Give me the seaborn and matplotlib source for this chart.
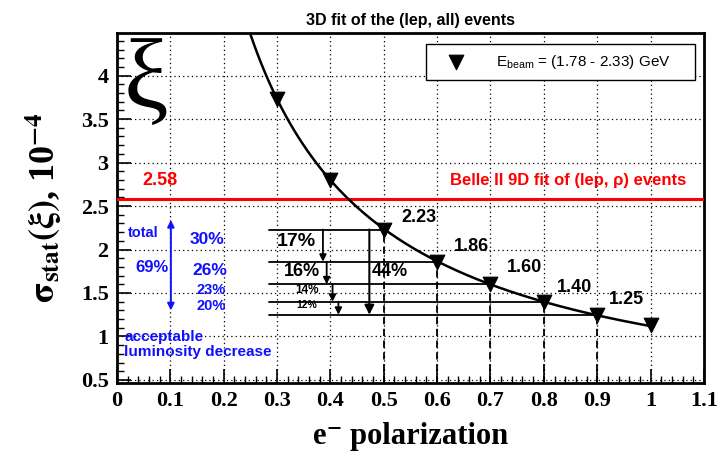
import numpy as np
import pandas as pd
import matplotlib
matplotlib.use("Agg")
import matplotlib.pyplot as plt
import seaborn as sns
from matplotlib.ticker import MultipleLocator

# data
polarization = [0.3, 0.4, 0.5, 0.6, 0.7, 0.8, 0.9, 1.0]
sigma_stat = [3.73, 2.80, 2.23, 1.86, 1.60, 1.40, 1.25, 1.13]
labelled_pol = [0.5, 0.6, 0.7, 0.8, 0.9]
labelled_sigma = [2.23, 1.86, 1.60, 1.40, 1.25]
value_labels = ["2.23", "1.86", "1.60", "1.40", "1.25"]
step_pcts = ["17%", "16%", "14%", "12%"]
total_pct = "44%"
lumi_pcts = ["30%", "26%", "23%", "20%"]
lumi_total = "69%"
belle_ref = 2.58
x_ticks = [0, 0.1, 0.2, 0.3, 0.4, 0.5, 0.6, 0.7, 0.8, 0.9, 1.0, 1.1]
x_ticklabels = ["0", "0.1", "0.2", "0.3", "0.4", "0.5", "0.6", "0.7", "0.8", "0.9", "1", "1.1"]
y_ticks = [0.5, 1, 1.5, 2, 2.5, 3, 3.5, 4]
y_ticklabels = ["0.5", "1", "1.5", "2", "2.5", "3", "3.5", "4"]

sns.set_theme(style="ticks")
plt.rcParams["font.family"] = ["Liberation Sans", "DejaVu Sans"]
plt.rcParams["mathtext.fontset"] = "custom"
plt.rcParams["mathtext.rm"] = "Liberation Sans"
plt.rcParams["text.color"] = "black"
plt.rcParams["axes.labelcolor"] = "black"
plt.rcParams["xtick.color"] = "black"
plt.rcParams["ytick.color"] = "black"

serif = ["Liberation Serif", "DejaVu Serif"]

fig = plt.figure(figsize=(7.19, 4.51), dpi=100)
ax = fig.add_axes([0.1627, 0.1508, 0.8163, 0.776])

# fit sigma = a / P to the points
x = np.array(polarization)
s = np.array(sigma_stat)
a = np.sum(s / x) / np.sum(1.0 / x**2)
xc = np.linspace(0.24, 1.0, 200)
df_fit = pd.DataFrame({"P": xc, "sigma": a / xc})
sns.lineplot(data=df_fit, x="P", y="sigma", ax=ax, color="black", lw=1.8, zorder=4)

df_pts = pd.DataFrame({"P": polarization, "sigma": sigma_stat})
sns.scatterplot(data=df_pts, x="P", y="sigma", ax=ax, marker="v", s=110,
                color="black", edgecolor="black", zorder=5,
                label=r"E$_{\mathrm{beam}}$ = (1.78 - 2.33) GeV")

# Belle II reference line
ax.axhline(belle_ref, color="red", lw=2.2, zorder=3)
ax.text(0.08, 2.79, f"{belle_ref:.2f}", color="red", fontsize=13, fontweight="bold",
        ha="center", va="center")
ax.text(1.066, 2.79, "Belle II 9D fit of (lep, ρ) events", color="red",
        fontsize=12, fontweight="bold", ha="right", va="center")

# horizontal and vertical guide lines
for p, v in zip(labelled_pol, labelled_sigma):
    ax.plot([0.285, p], [v, v], color="black", lw=1.3, zorder=3)
    ax.plot([p, p], [0.465, v], color="black", lw=1.3, ls=(0, (4, 2.5)), zorder=3)

# value labels
label_xy = [(0.565, 2.37), (0.665, 2.03), (0.763, 1.79), (0.858, 1.56), (0.955, 1.42)]
for (tx, ty), t in zip(label_xy, value_labels):
    ax.text(tx, ty, t, fontsize=13, fontweight="bold", ha="center", va="center")

# step arrows
arrow_x = [0.386, 0.393, 0.404, 0.415]
for i, xa in enumerate(arrow_x):
    ax.annotate("", xy=(xa, labelled_sigma[i + 1]), xytext=(xa, labelled_sigma[i]),
                arrowprops=dict(arrowstyle="-|>", color="black", lw=1.3,
                                mutation_scale=10, shrinkA=0, shrinkB=0))
ax.annotate("", xy=(0.473, labelled_sigma[-1]), xytext=(0.473, labelled_sigma[0]),
            arrowprops=dict(arrowstyle="-|>", color="black", lw=1.5,
                            mutation_scale=14, shrinkA=0, shrinkB=0))

pct_xy = [(0.337, 2.09), (0.347, 1.75), (0.356, 1.53), (0.356, 1.36)]
pct_fs = [14, 13, 8.5, 7.5]
for (tx, ty), t, fs in zip(pct_xy, step_pcts, pct_fs):
    ax.text(tx, ty, t, fontsize=fs, fontweight="bold", ha="center", va="center")
ax.text(0.512, 1.75, total_pct, fontsize=13, fontweight="bold", ha="center", va="center")

# luminosity annotations
blue = "#1010ff"
ax.annotate("", xy=(0.101, 1.30), xytext=(0.101, 2.34),
            arrowprops=dict(arrowstyle="<|-|>", color=blue, lw=1.4,
                            mutation_scale=10, shrinkA=0, shrinkB=0))
ax.text(0.049, 2.19, "total", color=blue, fontsize=10.5, fontweight="bold", ha="center", va="center")
ax.text(0.066, 1.79, lumi_total, color=blue, fontsize=12, fontweight="bold", ha="center", va="center")
lumi_xy = [(0.169, 2.11), (0.174, 1.76), (0.176, 1.53), (0.177, 1.35)]
lumi_fs = [12.5, 12.5, 10.5, 10.5]
for (tx, ty), t, fs in zip(lumi_xy, lumi_pcts, lumi_fs):
    ax.text(tx, ty, t, color=blue, fontsize=fs, fontweight="bold", ha="center", va="center")
ax.text(0.014, 0.99, "acceptable", color=blue, fontsize=11, fontweight="bold", ha="left", va="center")
ax.text(0.014, 0.82, "luminosity decrease", color=blue, fontsize=11, fontweight="bold",
        ha="left", va="center")

# big xi symbol
ax.text(0.055, 3.92, "ξ", fontsize=72, ha="center", va="center", family=serif)

# axes styling
ax.set_xlim(0, 1.1)
ax.set_ylim(0.465, 4.49)
ax.set_xticks(x_ticks)
ax.set_xticklabels(x_ticklabels)
ax.set_yticks(y_ticks)
ax.set_yticklabels(y_ticklabels)
ax.xaxis.set_minor_locator(MultipleLocator(0.02))
ax.yaxis.set_minor_locator(MultipleLocator(0.1))
ax.grid(True, which="major", color="black", ls=(0, (1, 2.5)), lw=0.9)
ax.tick_params(which="both", direction="in", top=False, right=False, color="black")
ax.tick_params(which="major", length=10, width=1.2, pad=6)
ax.tick_params(which="minor", length=5, width=1.0)
for sp in ax.spines.values():
    sp.set_linewidth(2)
    sp.set_color("black")

for lab in ax.get_xticklabels() + ax.get_yticklabels():
    lab.set_family(serif)
    lab.set_fontweight("bold")
    lab.set_fontsize(16)

ax.set_xlabel("e⁻ polarization", family=serif, fontweight="bold",
              fontsize=22, labelpad=8)
ax.set_ylabel(r"$\mathbf{\sigma_{stat}(\xi)}$, 10$^{\mathbf{-4}}$", family=serif,
              fontweight="bold", fontsize=26, labelpad=12, math_fontfamily="stix")
ax.set_title("3D fit of the (lep, all) events", fontsize=11.5, fontweight="bold", pad=6)

leg = ax.legend(loc="lower left", bbox_to_anchor=(0.526, 0.866, 0.459, 0.111), mode="expand",
                frameon=True, fancybox=False, edgecolor="black", framealpha=1,
                fontsize=11, handletextpad=1.2, handlelength=2.8, borderaxespad=0, borderpad=0.6)
leg.get_frame().set_linewidth(1.0)

fig.savefig("out.png", dpi=100)
